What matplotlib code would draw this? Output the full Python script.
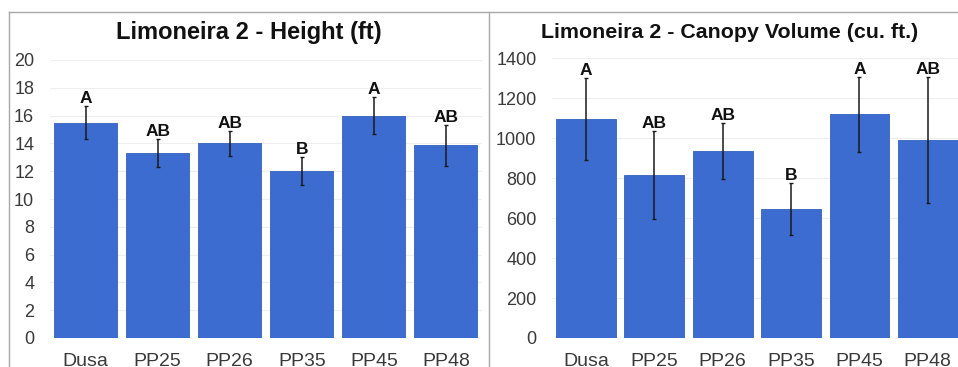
import matplotlib
matplotlib.use("Agg")
import matplotlib.pyplot as plt
from matplotlib.lines import Line2D

plt.rcParams['font.family'] = ['Liberation Sans', 'DejaVu Sans']

# data
rootstocks = ['Dusa', 'PP25', 'PP26', 'PP35', 'PP45', 'PP48']
height_ft = [15.5, 13.3, 14.0, 12.0, 16.0, 13.85]
height_err = [1.2, 1.0, 0.9, 1.0, 1.35, 1.5]
height_groups = ['A', 'AB', 'AB', 'B', 'A', 'AB']
canopy_vol = [1095, 815, 935, 645, 1120, 992]
canopy_err = [205, 220, 140, 130, 188, 315]
canopy_groups = ['A', 'AB', 'AB', 'B', 'A', 'AB']

W, H = 958, 367
fig = plt.figure(figsize=(W / 100, H / 100), dpi=100)

bar_col = '#3d6cd0'
txt_col = '#3a3a3a'


def px(x0, y0, x1, y1):
    # pixel box -> figure fraction [left, bottom, width, height]
    return [x0 / W, 1 - y1 / H, (x1 - x0) / W, (y1 - y0) / H]


def panel(ax, vals, errs, groups, ymax, ystep, title, title_x, title_fs):
    x = range(len(rootstocks))
    ax.bar(x, vals, width=0.875, color=bar_col, edgecolor='#3360bd', lw=0.6, zorder=2)
    ax.errorbar(x, vals, yerr=errs, fmt='none', ecolor='#1a1a1a', elinewidth=1.1,
                capsize=1.5, capthick=1.0, zorder=3)
    for i, (v, e, g) in enumerate(zip(vals, errs, groups)):
        ax.text(i, v + e, g, ha='center', va='bottom', fontsize=12.5,
                fontweight='bold', color='#111111', zorder=4)
    ax.set_xlim(-0.5, len(rootstocks) - 0.5)
    ax.set_ylim(0, ymax)
    ax.set_yticks(range(0, ymax + 1, ystep))
    ax.set_xticks(list(x))
    ax.set_xticklabels(rootstocks)
    ax.tick_params(axis='both', length=0, labelcolor=txt_col)
    ax.tick_params(axis='y', pad=11, labelsize=13)
    ax.tick_params(axis='x', pad=11, labelsize=14)
    for s in ax.spines.values():
        s.set_visible(False)
    ax.yaxis.grid(True, color='#eeeeee', lw=0.8, zorder=0)
    ax.set_axisbelow(True)
    fig.text(title_x / W, 1 - 33 / H, title, ha='center', va='center',
             fontsize=title_fs, fontweight='bold', color='#111111')


ax1 = fig.add_axes(px(49.5, 60, 482, 338))
panel(ax1, height_ft, height_err, height_groups, 20, 2,
      'Limoneira 2 - Height (ft)', 249, 17)

ax2 = fig.add_axes(px(551.7, 58.3, 962, 338))
panel(ax2, canopy_vol, canopy_err, canopy_groups, 1400, 200,
      'Limoneira 2 - Canopy Volume (cu. ft.)', 730, 15.4)

# frame lines of the screenshot
for xs, ys in [([9, W], [12, 12]), ([9, 9], [12, H]), ([489, 489], [12, H])]:
    fig.add_artist(Line2D([v / W for v in xs], [1 - v / H for v in ys],
                          color='#a8a8a8', lw=1.0))

fig.savefig('out.png', dpi=100)
